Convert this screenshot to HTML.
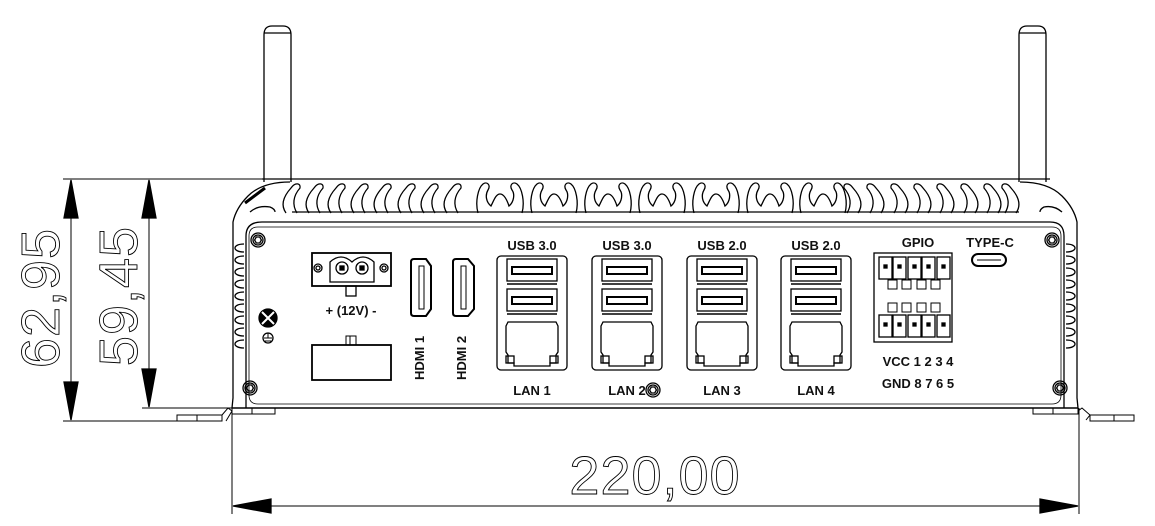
<!DOCTYPE html>
<html><head><meta charset="utf-8"><style>
html,body{margin:0;padding:0;background:#fff;}
svg{display:block;}
text{font-family:"Liberation Sans",sans-serif;}
.lbl{font-size:13px;font-weight:bold;fill:#111;}
</style></head><body>
<svg width="1155" height="526" viewBox="0 0 1155 526" xmlns="http://www.w3.org/2000/svg" fill="none" stroke="#000" stroke-width="1.3">
<defs>
<path id="fl" d="M0,33 C-5,26 -4,18 5,8 C9,2 15,3 14,8 C7,16 6,25 11,33"/>
<path id="fr" d="M0,33 C5,26 4,18 -5,8 C-9,2 -15,3 -14,8 C-7,16 -6,25 -11,33"/>
<path id="wv" d="M0,33 C-3,22 0,8 5,4 C9,1 13,5 10,10 C7,15 8,22 13,26 C16,20 18,14 22,14 C26,14 29,20 31,26 C36,22 37,14 34,10 C31,5 35,1 39,4 C44,8 47,22 44,33"/>
<path id="sb" d="M0,0 C-12,0 -12,8 0,8"/>
<g id="scr"><circle r="7"/><circle r="5"/><polygon points="3.4,0 1.7,3 -1.7,3 -3.4,0 -1.7,-3 1.7,-3"/></g>
<g id="usb"><rect x="0" y="0" width="50" height="22"/><rect x="5" y="8" width="40" height="7" stroke-width="2"/></g>
<g id="rj"><path d="M2,0 H50 L52,4 V30 L50,33 V41 H44 V44 H8 V41 H2 V33 L0,30 V4 Z"/><rect x="0" y="34" width="8" height="7"/><rect x="44" y="34" width="8" height="7"/></g>
<g id="grp"><rect x="0" y="0" width="70" height="114" rx="4"/><use href="#usb" x="10" y="3"/><line x1="10" y1="28" x2="60" y2="28" stroke-width="1.6"/><use href="#usb" x="10" y="33"/><line x1="10" y1="58" x2="60" y2="58" stroke-width="1.6"/><use href="#rj" x="9" y="66"/></g>
<g id="pin"><rect x="0" y="0" width="13" height="22"/><rect x="5" y="8" width="3" height="3" fill="#000"/></g>
</defs>

<!-- antennas -->
<path d="M264,182 V35 Q264,26 272,26 H283 Q291,26 291,35 V182"/>
<line x1="264" y1="33" x2="291" y2="33"/>
<path d="M1019,182 V35 Q1019,26 1027,26 H1038 Q1046,26 1046,35 V182"/>
<line x1="1019" y1="33" x2="1046" y2="33"/>

<!-- dimension lines left -->
<line x1="63" y1="179" x2="262" y2="179" stroke-width="1"/>
<line x1="142" y1="408" x2="232" y2="408" stroke-width="1"/>
<line x1="63" y1="421" x2="222" y2="421" stroke-width="1"/>
<line x1="71" y1="180" x2="71" y2="420" stroke-width="1"/>
<polygon points="71,180 64,218 78,218" fill="#000"/>
<polygon points="71,420 64,382 78,382" fill="#000"/>
<line x1="149" y1="180" x2="149" y2="407" stroke-width="1"/>
<polygon points="149,180 142,218 156,218" fill="#000"/>
<polygon points="149,407 142,369 156,369" fill="#000"/>
<text transform="translate(59,298) rotate(-90)" text-anchor="middle" font-size="54" fill="none" stroke="#000" stroke-width="0.9" style="font-family:'Liberation Sans',sans-serif;letter-spacing:1px">62,95</text>
<text transform="translate(137,296) rotate(-90)" text-anchor="middle" font-size="54" fill="none" stroke="#000" stroke-width="0.9" style="font-family:'Liberation Sans',sans-serif;letter-spacing:1px">59,45</text>

<!-- bottom dimension -->
<line x1="232" y1="408" x2="232" y2="514" stroke-width="1"/>
<line x1="1079" y1="408" x2="1079" y2="514" stroke-width="1"/>
<line x1="233" y1="506" x2="1078" y2="506" stroke-width="1"/>
<polygon points="233,506 271,499 271,513" fill="#000"/>
<polygon points="1078,506 1040,499 1040,513" fill="#000"/>
<text x="655" y="494" text-anchor="middle" font-size="54" fill="none" stroke="#000" stroke-width="0.9" style="font-family:'Liberation Sans',sans-serif;letter-spacing:1px">220,00</text>

<!-- body outline -->
<path d="M262,179 H1050"/>
<path d="M292,212 H1019" />
<path d="M290,182 Q262,182 248,196 Q236,208 233,222 V398 L232,408"/>
<path d="M250,212 Q258,205 270,207 Q275,209 275,212"/>
<path d="M245,203 L265,188" stroke-width="3" stroke="#000"/>
<path d="M246,408 V236 Q246,222 262,222 H1050 Q1064,222 1064,236 V408"/>
<path d="M1020,182 Q1048,182 1062,196 Q1074,208 1077,222 V398 L1078,408"/>
<path d="M1062,212 Q1054,205 1044,207 Q1040,209 1040,212"/>
<path d="M249,236 V395 Q249,404 258,404 H1052 Q1061,404 1061,395 V236 Q1061,227 1052,227 H258 Q249,227 249,236Z" stroke-width="0.8"/>

<!-- top fins -->
<use href="#fl" x="309" y="180"/><use href="#fl" x="331" y="180"/><use href="#fl" x="354" y="180"/><use href="#fl" x="377" y="180"/><use href="#fl" x="401" y="180"/><use href="#fl" x="424" y="180"/><use href="#fl" x="447" y="180"/>
<use href="#fl" x="286" y="180"/>
<use href="#wv" x="478" y="180"/><use href="#wv" x="532" y="180"/><use href="#wv" x="586" y="180"/><use href="#wv" x="640" y="180"/><use href="#wv" x="694" y="180"/><use href="#wv" x="748" y="180"/><use href="#wv" x="801" y="180"/>
<use href="#fr" x="858" y="180"/><use href="#fr" x="881" y="180"/><use href="#fr" x="905" y="180"/><use href="#fr" x="928" y="180"/><use href="#fr" x="951" y="180"/><use href="#fr" x="975" y="180"/><use href="#fr" x="998" y="180"/><use href="#fr" x="1016" y="180"/>

<!-- side fins -->
<g>
<use href="#sb" x="244" y="244"/><use href="#sb" x="244" y="256"/><use href="#sb" x="244" y="268"/><use href="#sb" x="244" y="280"/><use href="#sb" x="244" y="292"/><use href="#sb" x="244" y="304"/><use href="#sb" x="244" y="316"/><use href="#sb" x="244" y="328"/><use href="#sb" x="244" y="340"/>
</g>
<g transform="translate(2310,0) scale(-1,1)">
<use href="#sb" x="1244" y="244"/><use href="#sb" x="1244" y="256"/><use href="#sb" x="1244" y="268"/><use href="#sb" x="1244" y="280"/><use href="#sb" x="1244" y="292"/><use href="#sb" x="1244" y="304"/><use href="#sb" x="1244" y="316"/><use href="#sb" x="1244" y="328"/><use href="#sb" x="1244" y="340"/>
</g>

<!-- bottom line & flanges -->
<line x1="232" y1="408" x2="1078" y2="408" stroke-width="1.5"/>
<rect x="232" y="408" width="20" height="6" stroke-width="1"/><rect x="252" y="408" width="23" height="6" stroke-width="1"/>
<rect x="177" y="415" width="20" height="6" stroke-width="1"/><rect x="197" y="415" width="25" height="6" stroke-width="1"/>
<path d="M222,415 L228,408 L232,411 L226,421" stroke-width="1"/>
<rect x="1033" y="408" width="20" height="6" stroke-width="1"/><rect x="1053" y="408" width="25" height="6" stroke-width="1"/>
<rect x="1090" y="415" width="24" height="6" stroke-width="1"/><rect x="1114" y="415" width="20" height="6" stroke-width="1"/>
<path d="M1078,411 L1082,408 L1090,415 L1086,420" stroke-width="1"/>

<!-- screws -->
<use href="#scr" x="258" y="240"/><use href="#scr" x="250" y="388"/><use href="#scr" x="1052" y="240"/><use href="#scr" x="1060" y="388"/><use href="#scr" x="653" y="390"/>

<!-- ground -->
<circle cx="268" cy="318" r="9" fill="#000"/>
<path d="M262,312 L274,324 M274,312 L262,324" stroke="#fff" stroke-width="2"/>
<circle cx="268" cy="338" r="5"/><path d="M264,338 H272 M265,341 H271 M268,333 V338" stroke-width="1"/>

<!-- power connector -->
<rect x="312" y="253" width="79" height="33" stroke-width="1.8"/>
<circle cx="318" cy="268" r="4"/><circle cx="318" cy="268" r="2"/>
<circle cx="384" cy="268" r="4"/><circle cx="384" cy="268" r="2"/>
<path d="M330,275 V262 Q341,252 352,262 Q363,252 374,262 V282 H330 Z"/>
<circle cx="342" cy="268" r="6"/><rect x="340" y="266" width="4" height="4" fill="#000"/>
<circle cx="362" cy="268" r="6"/><rect x="360" y="266" width="4" height="4" fill="#000"/>
<rect x="346" y="286" width="10" height="10"/>
<text class="lbl" x="351" y="315" text-anchor="middle" stroke="none" font-size="14">+ (12V) -</text>

<rect x="312" y="345" width="79" height="35" stroke-width="1.8"/>
<path d="M346,345 V336 H356 V345 M350,336 V345" stroke-width="1"/>

<!-- HDMI -->
<path d="M411,262 Q411,259 414,259 H426 L431,266 V309 L426,316 H414 Q411,316 411,313 Z" stroke-width="2"/>
<rect x="419" y="266" width="5" height="43" stroke-width="1"/>
<path d="M453,262 Q453,259 456,259 H468 L474,266 V309 L468,316 H456 Q453,316 453,313 Z" stroke-width="2"/>
<rect x="461" y="266" width="5" height="43" stroke-width="1"/>
<text class="lbl" transform="translate(424,380) rotate(-90)" stroke="none">HDMI 1</text>
<text class="lbl" transform="translate(466,380) rotate(-90)" stroke="none">HDMI 2</text>

<!-- USB/LAN groups -->
<use href="#grp" x="497" y="256"/>
<use href="#grp" x="592" y="256"/>
<use href="#grp" x="687" y="256"/>
<use href="#grp" x="781" y="256"/>
<g stroke="none" class="lbl" text-anchor="middle">
<text x="532" y="250">USB 3.0</text><text x="627" y="250">USB 3.0</text><text x="722" y="250">USB 2.0</text><text x="816" y="250">USB 2.0</text>
<text x="532" y="395">LAN 1</text><text x="627" y="395">LAN 2</text><text x="722" y="395">LAN 3</text><text x="816" y="395">LAN 4</text>
<text x="918" y="247">GPIO</text><text x="990" y="247">TYPE-C</text>
<text x="918" y="366">VCC 1 2 3 4</text><text x="918" y="388">GND 8 7 6 5</text>
</g>

<!-- GPIO -->
<rect x="874" y="253" width="78" height="89" stroke-width="1.3"/>
<use href="#pin" x="879" y="257"/><use href="#pin" x="893" y="257"/><use href="#pin" x="908" y="257"/><use href="#pin" x="922" y="257"/><use href="#pin" x="937" y="257"/>
<use href="#pin" x="879" y="315"/><use href="#pin" x="893" y="315"/><use href="#pin" x="908" y="315"/><use href="#pin" x="922" y="315"/><use href="#pin" x="937" y="315"/>
<g stroke-width="1"><rect x="888" y="280" width="9" height="9"/><rect x="902" y="280" width="9" height="9"/><rect x="917" y="280" width="9" height="9"/><rect x="931" y="280" width="9" height="9"/>
<rect x="888" y="303" width="9" height="9"/><rect x="902" y="303" width="9" height="9"/><rect x="917" y="303" width="9" height="9"/><rect x="931" y="303" width="9" height="9"/></g>

<!-- Type-C -->
<rect x="972" y="254" width="34" height="12" rx="6" stroke-width="2"/>
<line x1="977" y1="260" x2="1001" y2="260" stroke-width="1"/>
</svg>
</body></html>
